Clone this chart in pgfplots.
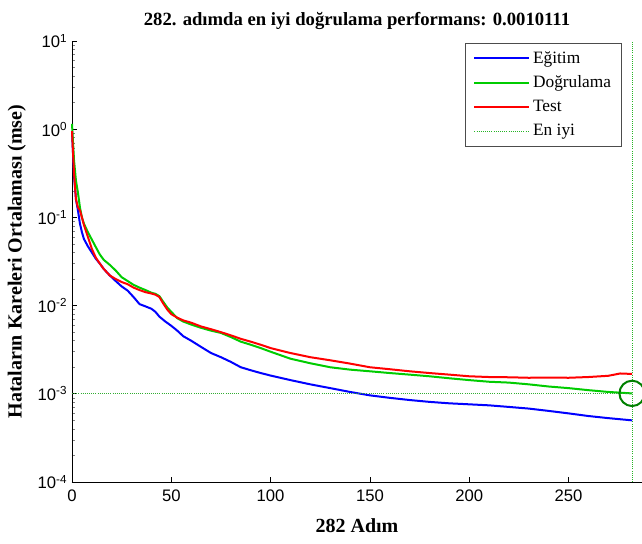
\documentclass[border=0pt]{standalone}
\usepackage{fontspec}
\setmainfont{Liberation Serif}
\newfontfamily\arialfont{Liberation Sans}
\usepackage{pgfplots}
\pgfplotsset{compat=1.18}

\definecolor{mblue}{rgb}{0,0,1}
\definecolor{mgreen}{rgb}{0,0.8,0}
\definecolor{mred}{rgb}{1,0,0}
\definecolor{dgreen}{rgb}{0,0.5,0}

\begin{document}
\begin{tikzpicture}
  \begin{axis}[
    name=ax,
    scale only axis,
    width=427.5pt, height=330.75pt,
    ymode=log,
    xmin=0, xmax=287,
    ymin=1e-4, ymax=10,
    axis x line*=bottom,
    axis y line*=left,
    xtick={0,50,100,150,200,250},
    ytick={1e-4,1e-3,1e-2,1e-1,1,10},
    yticklabels={10\textsuperscript{-4},10\textsuperscript{-3},10\textsuperscript{-2},10\textsuperscript{-1},10\textsuperscript{0},10\textsuperscript{1}},
    tick align=inside,
    major tick length=4pt,
    minor tick length=2.5pt,
    tick style={black, line width=0.5pt},
    minor tick style={gray},
    /pgf/number format/assume math mode=true,
    tick label style={font=\arialfont\fontsize{12.5}{14}\selectfont},
    xticklabel style={yshift=-2pt},
    title={\textbf{282. adımda en iyi doğrulama performans: 0.0010111}},
    title style={font=\fontsize{14}{16}\selectfont, yshift=-1pt},
    xlabel={\textbf{282 Adım}},
    ylabel={\textbf{Hataların Kareleri Ortalaması (mse)}},
    label style={font=\fontsize{15}{17}\selectfont},
    xlabel style={yshift=-6pt},
    ylabel style={yshift=2pt},
    legend style={at={(1,1)}, anchor=north east, xshift=-15pt, yshift=-1.5pt,
      draw=black!70, font=\fontsize{13}{15}\selectfont,
      row sep=4pt, inner xsep=6pt, inner ysep=4pt},
    legend cell align=left,
    legend image code/.code={\draw[#1] (0cm,0cm) -- (1.45cm,0cm);},
    clip=false,
  ]
    \addplot[mblue, line width=1.5pt] coordinates {
      (0,0.95) (1,0.30) (2,0.16) (3,0.12) (4,0.085) (5,0.068) (6,0.057)
      (8,0.047) (10,0.040) (12,0.034) (14,0.030) (16,0.026) (19,0.022)
      (22,0.019) (25,0.0165) (28,0.0148) (31,0.0125) (34,0.0104) (37,0.0098)
      (40,0.0092) (42,0.0085) (44,0.0075) (47,0.0066) (50,0.0059) (53,0.0052)
      (56,0.0045) (60,0.0040) (65,0.0034) (70,0.0029) (75,0.0026) (80,0.0023)
      (85,0.0020) (90,0.00185) (95,0.00172) (100,0.00161) (110,0.00143)
      (120,0.00128) (130,0.00116) (140,0.00105) (150,0.00096) (160,0.00090)
      (170,0.00085) (180,0.00081) (190,0.00078) (200,0.00076) (210,0.00074)
      (220,0.00071) (230,0.00068) (240,0.00064) (250,0.00060) (260,0.00056)
      (270,0.00053) (282,0.00050)
    };
    \addlegendentry{Eğitim}
    \addplot[mgreen, line width=1.5pt] coordinates {
      (0,1.15) (1,0.45) (2,0.26) (3,0.19) (4,0.13) (5,0.10) (6,0.085)
      (8,0.068) (10,0.056) (12,0.046) (14,0.038) (16,0.033) (19,0.029)
      (22,0.025) (25,0.021) (28,0.019) (31,0.0172) (34,0.0160) (37,0.0150)
      (40,0.0140) (42,0.0136) (44,0.0128) (46,0.0110) (48,0.0095) (50,0.0085)
      (53,0.0072) (56,0.0066) (60,0.0061) (65,0.0056) (70,0.0052) (75,0.0049)
      (80,0.0044) (85,0.0039) (90,0.0036) (95,0.0033) (100,0.0030)
      (110,0.0025) (120,0.00222) (130,0.00200) (140,0.00188) (150,0.00180)
      (160,0.00172) (170,0.00165) (180,0.00158) (190,0.00150) (200,0.00143)
      (210,0.00137) (220,0.00134) (230,0.00128) (240,0.00121) (250,0.00116)
      (260,0.00110) (270,0.00105) (282,0.00101)
    };
    \addlegendentry{Doğrulama}
    \addplot[mred, line width=1.5pt] coordinates {
      (0,0.95) (1,0.32) (2,0.16) (3,0.13) (4,0.12) (5,0.10) (6,0.082)
      (8,0.060) (10,0.044) (12,0.035) (14,0.030) (16,0.026) (19,0.022)
      (22,0.020) (25,0.0185) (28,0.0175) (31,0.0160) (34,0.0150) (37,0.0142)
      (40,0.0137) (42,0.0133) (44,0.0125) (46,0.0105) (48,0.0090) (50,0.0080)
      (53,0.0073) (56,0.0068) (60,0.0064) (65,0.0058) (70,0.0054) (75,0.0050)
      (80,0.0046) (85,0.0042) (90,0.0039) (95,0.0036) (100,0.0033)
      (110,0.0029) (120,0.0026) (130,0.0024) (140,0.0022) (150,0.0020)
      (160,0.0019) (170,0.00180) (180,0.00172) (190,0.00165) (200,0.00158)
      (210,0.00155) (220,0.00154) (230,0.00152) (240,0.00153) (250,0.00152)
      (260,0.00155) (270,0.00160) (276,0.00170) (282,0.00168)
    };
    \addlegendentry{Test}
    % best epoch markers
    \addplot[mgreen!70!gray, densely dotted, line width=0.6pt] coordinates {(282,1e-4) (282,10)};
    \addlegendentry{En iyi}
    \addplot[mgreen!60!gray, densely dotted, line width=0.6pt, forget plot] coordinates {(0,0.0010111) (282,0.0010111)};
    \addplot[dgreen, only marks, mark=o, mark size=9.5pt, line width=1.5pt, forget plot]
      coordinates {(282,0.0010111)};
  \end{axis}
  \pgfresetboundingbox
  \path ([shift={(-54pt,-45.75pt)}]ax.south west) rectangle ([shift={(0pt,30.75pt)}]ax.north east);
\end{tikzpicture}
\end{document}
